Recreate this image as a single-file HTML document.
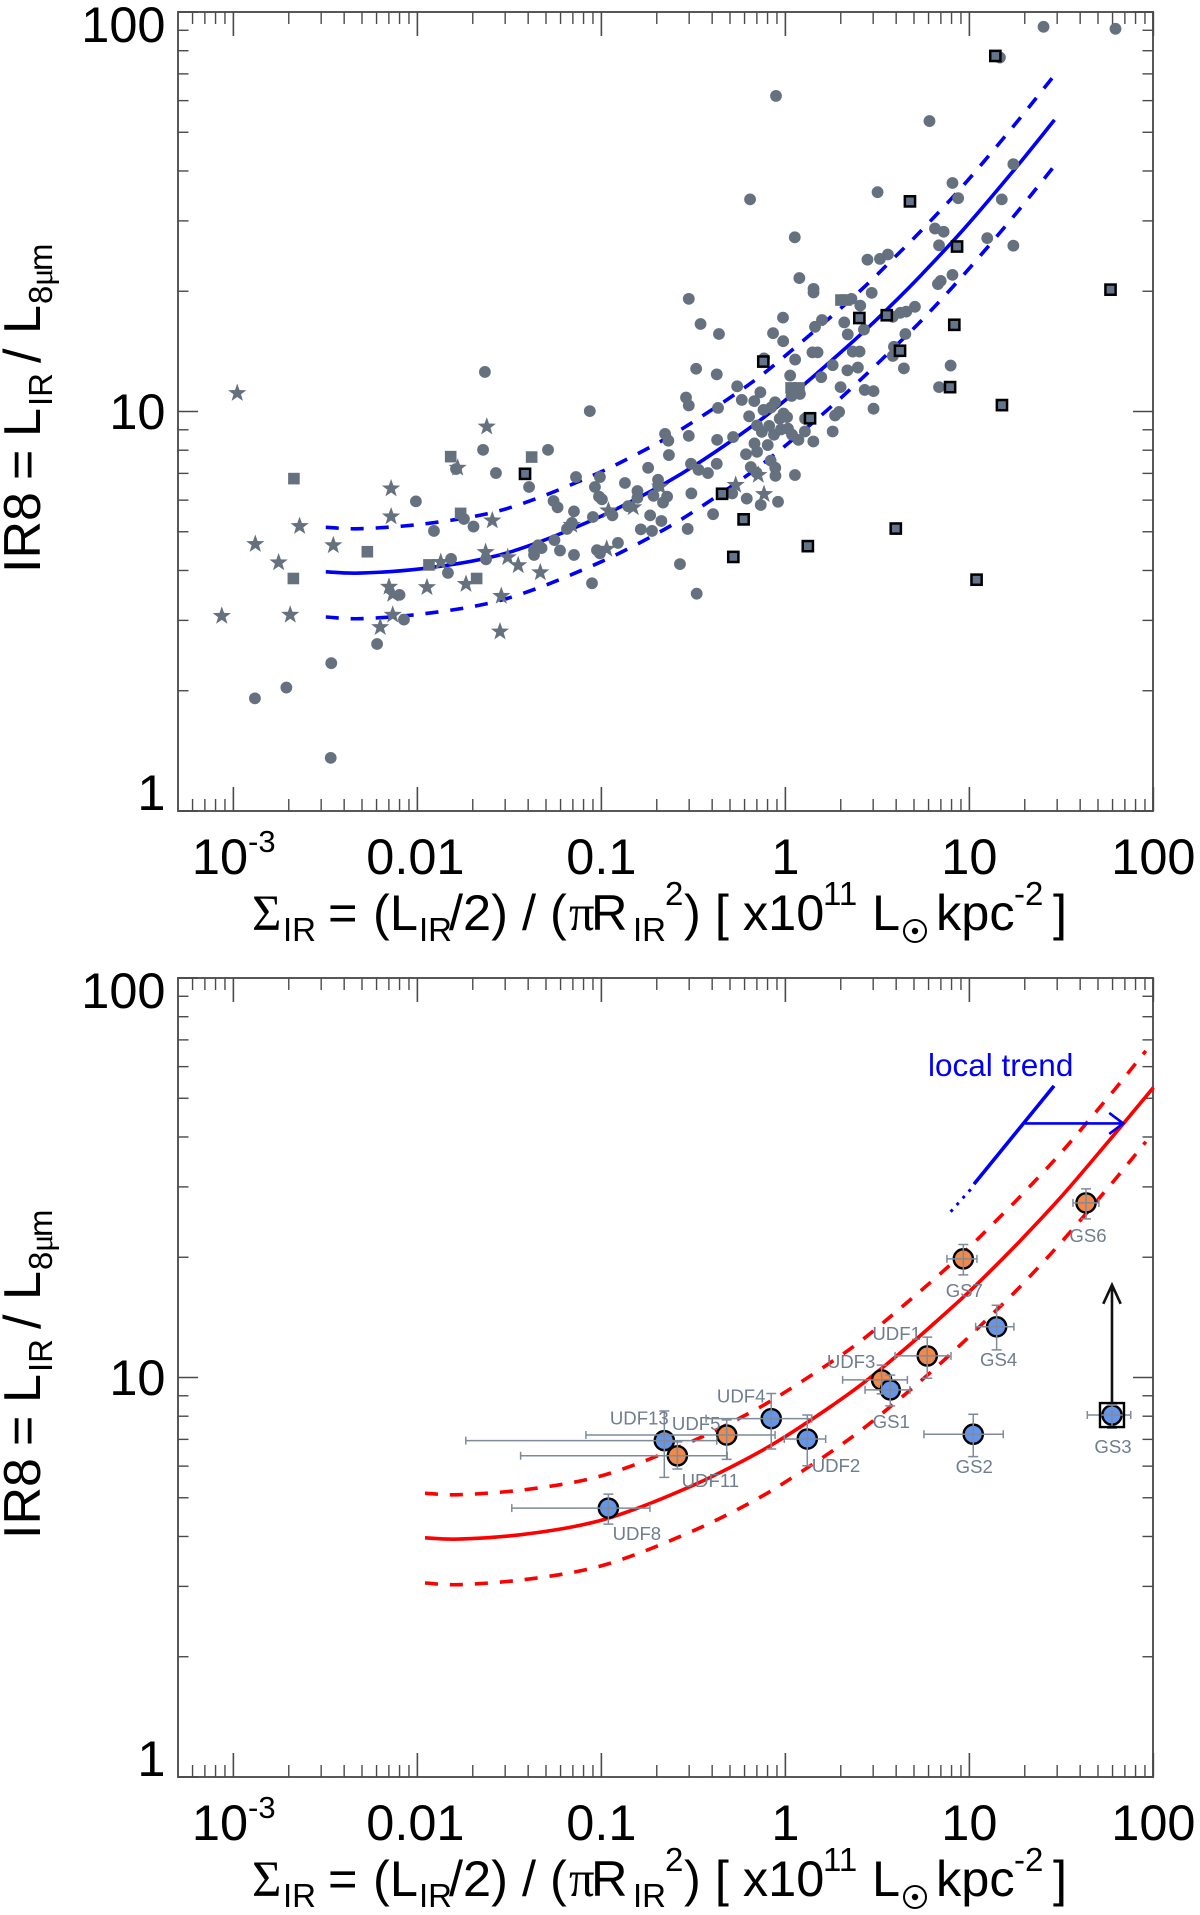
<!DOCTYPE html>
<html lang="en">
<head>
<meta charset="utf-8">
<title>IR8 versus infrared surface density</title>
<style>
html,body{margin:0;padding:0;background:#fff;}
svg{display:block;}
text{font-family:"Liberation Sans",Arial,sans-serif;fill:#000;}
.serif{font-family:"Liberation Serif","DejaVu Serif",serif;}
</style>
</head>
<body>
<svg id="figure" xmlns="http://www.w3.org/2000/svg" width="1200" height="1915" viewBox="0 0 1200 1915">
  <rect x="0" y="0" width="1200" height="1915" fill="#fff"/>

  <g id="panelTop"></g>
  <g id="panelBottom"></g>

  <g>
    <text font-size="50.5"><tspan class="serif" x="252" y="930">Σ</tspan><tspan font-size="33" x="283" y="941">IR</tspan><tspan x="328" y="930">=</tspan><tspan x="373" y="930">(L</tspan><tspan font-size="33" x="419" y="941">IR</tspan><tspan x="449" y="930">/2) / (</tspan><tspan class="serif" x="569" y="930">π</tspan><tspan x="591" y="930">R</tspan><tspan font-size="33" x="633" y="941">IR</tspan><tspan font-size="33" x="665" y="905">2</tspan><tspan x="684" y="930">) [ x10</tspan><tspan font-size="33" x="823" y="905">11</tspan><tspan x="872" y="930">L</tspan><tspan x="936" y="930">kpc</tspan><tspan font-size="33" x="1014" y="905">-2</tspan><tspan x="1053" y="930">]</tspan></text>
    <circle cx="915" cy="931" r="11" fill="none" stroke="#000" stroke-width="2"/>
    <circle cx="915" cy="931" r="3.2" fill="#000"/>
  </g>
  <g transform="translate(0,966)">
    <text font-size="50.5"><tspan class="serif" x="252" y="930">Σ</tspan><tspan font-size="33" x="283" y="941">IR</tspan><tspan x="328" y="930">=</tspan><tspan x="373" y="930">(L</tspan><tspan font-size="33" x="419" y="941">IR</tspan><tspan x="449" y="930">/2) / (</tspan><tspan class="serif" x="569" y="930">π</tspan><tspan x="591" y="930">R</tspan><tspan font-size="33" x="633" y="941">IR</tspan><tspan font-size="33" x="665" y="905">2</tspan><tspan x="684" y="930">) [ x10</tspan><tspan font-size="33" x="823" y="905">11</tspan><tspan x="872" y="930">L</tspan><tspan x="936" y="930">kpc</tspan><tspan font-size="33" x="1014" y="905">-2</tspan><tspan x="1053" y="930">]</tspan></text>
    <circle cx="915" cy="931" r="11" fill="none" stroke="#000" stroke-width="2"/>
    <circle cx="915" cy="931" r="3.2" fill="#000"/>
  </g>

  <text transform="translate(40,569) rotate(-90)" font-size="52"><tspan x="-4" y="0">IR8</tspan><tspan x="89" y="0">=</tspan><tspan x="132" y="0">L</tspan><tspan font-size="33" x="163" y="12">IR</tspan><tspan x="206" y="0">/</tspan><tspan x="235" y="0">L</tspan><tspan font-size="33" x="265" y="12">8</tspan><tspan class="serif" font-size="33" x="283" y="12">μ</tspan><tspan font-size="33" x="298" y="12">m</tspan></text>
  <text transform="translate(40,1535) rotate(-90)" font-size="52"><tspan x="-4" y="0">IR8</tspan><tspan x="89" y="0">=</tspan><tspan x="132" y="0">L</tspan><tspan font-size="33" x="163" y="12">IR</tspan><tspan x="206" y="0">/</tspan><tspan x="235" y="0">L</tspan><tspan font-size="33" x="265" y="12">8</tspan><tspan class="serif" font-size="33" x="283" y="12">μ</tspan><tspan font-size="33" x="298" y="12">m</tspan></text>
</svg>

<script>
/* ---------- axis data ---------- */
const xMajorLog = [-3, -2, -1, 0, 1, 2];
const xTickLabels = ["10", "0.01", "0.1", "1", "10", "100"];
const yMajorLog = [0, 1, 2];
const yTickLabels = ["1", "10", "100"];
const minorMultipliers = [2, 3, 4, 5, 6, 7, 8, 9];

/* ---------- top panel trend (Sigma_IR, IR8) ---------- */
const trendSigma = [0.00318,0.00488,0.01046,0.0236,0.0441,0.0946,0.150,0.222,0.326,0.525,0.771,1.24,1.91,2.81,3.74,5.49,9.31,17.3,29.0];
const trendMedian = [3.97,3.94,4.04,4.29,4.68,5.41,6.00,6.61,7.36,8.53,9.70,11.6,13.8,16.2,18.4,22.0,28.6,40.0,53.7];
const trendUpper = [5.13,5.09,5.22,5.54,6.05,6.99,7.75,8.54,9.51,11.0,12.5,15.0,17.8,20.9,23.8,28.4,36.9,51.7,69.5];
const trendLower = [3.06,3.03,3.11,3.30,3.60,4.16,4.61,5.08,5.66,6.56,7.46,8.92,10.6,12.5,14.2,16.9,22.0,30.7,41.2];

/* ---------- bottom panel trend (Sigma_IR, IR8) ---------- */
const highzSigma = [0.011,0.0168,0.0361,0.0814,0.152,0.326,0.518,0.766,1.12,1.81,2.66,4.28,6.59,9.69,12.9,18.9,32.1,59.7,100];
const highzMedian = [3.97,3.94,4.04,4.29,4.68,5.41,6.00,6.61,7.36,8.53,9.70,11.6,13.8,16.2,18.4,22.0,28.6,40.0,53.2];
const highzDashSigma = [0.011,0.0168,0.0361,0.0814,0.152,0.326,0.518,0.766,1.12,1.81,2.66,4.28,6.59,9.69,12.9,18.9,32.1,59.7,91];
const highzUpper = [5.13,5.09,5.22,5.54,6.05,6.99,7.75,8.54,9.51,11.0,12.5,15.0,17.8,20.9,23.8,28.4,36.9,51.7,65.7];
const highzLower = [3.06,3.03,3.11,3.30,3.60,4.16,4.61,5.08,5.66,6.56,7.46,8.92,10.6,12.5,14.2,16.9,22.0,30.7,38.9];

/* ---------- top panel samples, log10 values ---------- */
const circleLogSigma = [-1.633,-1.063,-1.643,-1.290,-1.573,-1.138,-1.790,-1.393,-2.008,-1.260,-1.238,-1.747,-1.910,-1.695,-1.187,-1.160,-1.255,-1.344,-1.325,-1.366,-1.366,-1.225,-1.627,-1.817,-1.834,-2.097,-2.073,-2.219,-2.468,-2.712,-2.883,-2.471,-1.149,-1.046,-1.035,-1.013,-1.149,-1.024,-1.051,-1.008,-0.872,-0.997,-0.940,-0.855,-0.804,-0.804,-0.717,-0.692,-0.691,-0.643,-0.665,-0.735,-0.674,-0.786,-0.725,-0.531,-1.008,-0.910,-0.573,-0.482,-0.654,-0.636,-0.525,-0.371,-0.284,-0.633,-0.746,-0.513,-0.472,-0.421,-0.373,-0.511,-0.393,-0.289,-0.210,-0.134,-0.040,-0.214,-0.154,-0.168,-0.096,-0.188,-0.157,-0.080,-0.055,-0.054,0.052,-0.154,-0.128,-0.088,-0.062,-0.024,0.014,0.036,0.071,0.152,0.106,0.257,-0.361,-0.067,-0.012,0.339,0.427,0.147,0.175,0.053,-0.116,0.366,0.403,-0.485,-0.373,0.026,0.257,0.337,0.394,0.195,-0.262,-0.136,-0.237,-0.169,-0.540,-0.525,-0.366,0.034,0.079,0.300,0.431,0.479,0.479,-0.056,-0.078,-0.119,-0.197,-0.010,0.009,-0.031,0.107,0.292,0.270,1.403,1.794,1.166,-0.051,0.783,1.239,0.908,0.501,-0.192,0.939,1.176,0.813,0.860,0.051,1.097,0.835,1.239,0.446,0.514,0.557,0.076,0.908,0.844,0.829,0.153,0.153,0.469,-0.525,0.359,0.407,0.704,0.657,0.625,0.584,-0.013,0.199,0.320,0.161,-0.461,0.590,0.584,0.652,0.644,0.898,0.835];
const circleLogIR8 = [1.099,1.001,0.904,0.904,0.846,0.836,0.856,0.811,0.775,0.776,0.760,0.731,0.701,0.712,0.706,0.721,0.678,0.665,0.658,0.653,0.641,0.652,0.630,0.631,0.596,0.541,0.479,0.418,0.370,0.309,0.282,0.133,0.750,0.736,0.811,0.787,0.641,0.653,0.570,0.836,0.821,0.780,0.740,0.763,0.801,0.784,0.789,0.829,0.814,0.787,0.772,0.740,0.726,0.705,0.701,0.706,0.645,0.671,0.618,0.544,0.944,0.927,0.939,0.929,0.936,0.891,0.859,0.869,0.854,0.846,0.869,0.795,0.743,0.795,0.782,0.766,0.774,0.893,0.899,0.920,0.916,0.861,0.847,0.877,0.859,0.839,0.841,0.965,0.949,0.964,0.942,0.955,0.957,0.942,0.929,0.925,0.950,0.950,1.194,1.196,1.176,1.193,1.205,1.148,1.148,1.130,1.133,1.150,1.150,1.107,1.093,1.090,1.116,1.103,1.110,1.086,1.063,1.048,1.029,1.026,1.035,1.015,1.009,1.039,1.044,1.061,1.054,1.051,1.007,1.023,1.010,1.004,0.988,0.995,0.986,0.982,0.982,0.999,0.990,1.963,1.958,1.886,1.790,1.727,1.619,1.572,1.549,1.531,1.534,1.531,1.458,1.450,1.436,1.434,1.416,1.415,1.380,1.382,1.393,1.334,1.342,1.327,1.319,1.307,1.298,1.297,1.282,1.282,1.265,1.262,1.250,1.247,1.237,1.235,1.229,1.223,1.212,1.219,1.162,1.139,1.194,1.108,1.115,1.061];

const starLogSigma = [-1.623,-1.781,-2.143,-2.143,-1.593,-2.640,-2.881,-2.457,-2.754,-1.629,-1.509,-1.452,-1.873,-1.332,-2.154,-2.134,-1.948,-1.736,-1.544,-3.063,-2.691,-2.134,-2.202,-1.551,-1.161,-0.962,-0.827,-0.971,-0.681,-0.270,-0.147,-0.116,-2.979];
const starLogIR8 = [0.962,0.859,0.807,0.737,0.727,0.713,0.668,0.665,0.622,0.648,0.635,0.615,0.623,0.597,0.561,0.543,0.560,0.568,0.538,0.488,0.491,0.491,0.460,0.449,0.716,0.752,0.760,0.656,0.812,0.816,0.841,0.793,1.046];

const squareLogSigma = [-2.671,-1.819,-1.379,-1.765,-2.272,-1.937,-2.674,-1.678,0.302,0.329,0.031,0.074];
const squareLogIR8 = [0.832,0.887,0.886,0.745,0.649,0.616,0.582,0.582,1.279,1.279,1.059,1.059];

const boxedLogSigma = [-1.415,-0.344,-0.227,-0.283,-0.120,0.134,0.677,0.402,0.551,0.933,0.918,0.623,0.895,1.177,1.141,1.767,0.122,0.600,1.039];
const boxedLogIR8 = [0.844,0.794,0.730,0.636,1.125,0.983,1.526,1.234,1.241,1.413,1.217,1.152,1.061,1.016,1.890,1.305,0.663,0.707,0.579];

/* ---------- bottom panel galaxies, log10 values ---------- */
const galaxyNames = ["UDF8","UDF13","UDF11","UDF5","UDF4","UDF2","UDF3","GS1","UDF1","GS2","GS3","GS4","GS7","GS6"];
const galaxyKinds = ["blue","blue","orange","orange","blue","blue","orange","blue","orange","blue","blue","blue","orange","orange"];
const galaxyLogSigma = [-0.962,-0.658,-0.587,-0.319,-0.077,0.119,0.523,0.570,0.771,1.021,1.775,1.148,0.967,1.634];
const galaxyLogSigmaLow = [-1.487,-1.737,-1.439,-1.084,-0.431,-0.006,0.311,0.433,0.596,0.753,1.641,1.034,0.878,1.563];
const galaxyLogSigmaHigh = [-0.736,-0.373,-0.316,-0.056,0.143,0.219,0.663,0.677,0.900,1.184,1.877,1.242,1.041,1.704];
const galaxyLogIR8 = [0.673,0.842,0.804,0.856,0.897,0.846,0.994,0.969,1.054,0.858,0.906,1.127,1.297,1.437];
const galaxyLogIR8Low = [0.633,0.750,0.771,0.795,0.821,0.779,0.959,0.929,0.998,0.802,0.873,1.069,1.257,1.397];
const galaxyLogIR8High = [0.708,0.916,0.839,0.894,0.960,0.906,1.031,1.006,1.101,0.908,0.931,1.181,1.333,1.472];
const galaxyLabelDx = [28.5,-25,33,-30.5,-30,28.7,-30.5,1,-30.6,1,1,2,1,2];
const galaxyLabelDy = [32,-16,31,-5,-16,33,-12,38,-16,39,38,39,38,39];

/* ---------- annotations, log10 values ---------- */
const localTrendLogSigma = [1.460, 1.025];
const localTrendLogIR8 = [1.730, 1.484];
const localDottedLogSigma = [1.007, 0.877];
const localDottedLogIR8 = [1.471, 1.404];
const shiftArrowLogSigma = [1.302, 1.836];
const shiftArrowLogIR8 = [1.636, 1.636];
const limitArrowLogSigma = [1.775, 1.775];
const limitArrowLogIR8 = [0.935, 1.232];

/* ---------- axis functions ---------- */
const NS = "http://www.w3.org/2000/svg";
const plotLeft = 178, plotRight = 1153, xDecade = 184, xLogMin = -3.301, yDecade = 399.5, plotHeight = 799;
function xPos(logValue) { return plotLeft + (logValue - xLogMin) * xDecade; }
function yPos(logValue, base) { return base - logValue * yDecade; }

function make(tag, parent, attrs) {
  const node = document.createElementNS(NS, tag);
  for (const key in attrs) node.setAttribute(key, attrs[key]);
  parent.appendChild(node);
  return node;
}
function smoothPath(xs, ys, base) {
  const pts = xs.map((v, i) => [xPos(Math.log10(v)), yPos(Math.log10(ys[i]), base)]);
  let d = "M" + pts[0][0].toFixed(1) + " " + pts[0][1].toFixed(1);
  for (let i = 0; i < pts.length - 1; i++) {
    const p0 = pts[Math.max(i - 1, 0)], p1 = pts[i], p2 = pts[i + 1], p3 = pts[Math.min(i + 2, pts.length - 1)];
    d += " C" + (p1[0] + (p2[0] - p0[0]) / 6).toFixed(1) + " " + (p1[1] + (p2[1] - p0[1]) / 6).toFixed(1) + " " +
      (p2[0] - (p3[0] - p1[0]) / 6).toFixed(1) + " " + (p2[1] - (p3[1] - p1[1]) / 6).toFixed(1) + " " +
      p2[0].toFixed(1) + " " + p2[1].toFixed(1);
  }
  return d;
}
function starPoints(cx, cy, outer, inner) {
  const out = [];
  for (let i = 0; i < 10; i++) {
    const r = i % 2 ? inner : outer, a = -Math.PI / 2 + i * Math.PI / 5;
    out.push((cx + r * Math.cos(a)).toFixed(1) + "," + (cy + r * Math.sin(a)).toFixed(1));
  }
  return out.join(" ");
}

function drawAxes(group, base) {
  const top = base - plotHeight;
  const frame = make("rect", group, {x: plotLeft, y: top, width: plotRight - plotLeft, height: plotHeight, fill: "none", stroke: "#585858", "stroke-width": 2});
  
  

  xMajorLog.forEach(function (d, i) {
    const x = xPos(d);
    [[base, base - 24], [top, top + 24]].forEach(function (e) {
      const t = make("line", group, {x1: x, x2: x, y1: e[0], y2: e[1], stroke: "#4a4a4a", "stroke-width": 1.6});
      
      
    });
    const lab = make("text", group, {x: i === 0 ? 220 : x + (i === 1 ? -2 : 0), y: base + 63, "font-size": 50.5, "text-anchor": "middle"});
    lab.textContent = xTickLabels[i];
    
    
    if (i === 0) {
      const sup = make("text", group, {x: 248, y: base + 41, "font-size": 31});
      sup.textContent = "-3";
      
      
    }
  });
  for (let d = -4; d <= 1; d++) {
    minorMultipliers.forEach(function (m) {
      const logv = d + Math.log10(m);
      if (logv <= xLogMin + 0.001 || logv >= 2) return;
      const x = xPos(logv);
      [[base, base - 12], [top, top + 12]].forEach(function (e) {
        const t = make("line", group, {x1: x, x2: x, y1: e[0], y2: e[1], stroke: "#4a4a4a", "stroke-width": 1.4});
        
        
      });
    });
  }
  yMajorLog.forEach(function (d, i) {
    const y = yPos(d, base);
    [[plotLeft, plotLeft + 20], [plotRight, plotRight - 20]].forEach(function (e) {
      const t = make("line", group, {x1: e[0], x2: e[1], y1: y, y2: y, stroke: "#4a4a4a", "stroke-width": 1.6});
      
      
    });
    const lab = make("text", group, {x: 165.5, y: y + [-1, 17.5, 30][i], "font-size": 50.5, "text-anchor": "end"});
    lab.textContent = yTickLabels[i];
    
    
    if (d < 2) {
      minorMultipliers.forEach(function (m) {
        const my = yPos(d + Math.log10(m), base);
        [[plotLeft, plotLeft + 10.5], [plotRight, plotRight - 10.5]].forEach(function (e) {
          const t = make("line", group, {x1: e[0], x2: e[1], y1: my, y2: my, stroke: "#4a4a4a", "stroke-width": 1.4});
          
          
        });
      });
    }
  });
}

function drawCurve(group, xs, ys, base, color, dashed) {
  const attrs = {d: smoothPath(xs, ys, base), fill: "none", stroke: color, "stroke-width": 3.6};
  if (dashed) attrs["stroke-dasharray"] = "13 12";
  const c = make("path", group, attrs);
  
  
}

/* ---------- top panel ---------- */
const topGroup = document.getElementById("panelTop");
const topBase = 811;
const sampleGrey = "#65717f";
drawAxes(topGroup, topBase);
drawCurve(topGroup, trendSigma, trendMedian, topBase, "#0000f5", false);
drawCurve(topGroup, trendSigma, trendUpper, topBase, "#0000f5", true);
drawCurve(topGroup, trendSigma, trendLower, topBase, "#0000f5", true);

circleLogSigma.forEach(function (v, i) {
  const m = make("circle", topGroup, {cx: xPos(v), cy: yPos(circleLogIR8[i], topBase), r: 5.9, fill: sampleGrey});
  
  
});
squareLogSigma.forEach(function (v, i) {
  const m = make("rect", topGroup, {x: xPos(v) - 5.8, y: yPos(squareLogIR8[i], topBase) - 5.8, width: 11.6, height: 11.6, fill: sampleGrey});
  
  
});
starLogSigma.forEach(function (v, i) {
  const m = make("polygon", topGroup, {points: starPoints(xPos(v), yPos(starLogIR8[i], topBase), 9.6, 3.9), fill: sampleGrey});
  
  
});
boxedLogSigma.forEach(function (v, i) {
  const m = make("rect", topGroup, {x: xPos(v) - 5.1, y: yPos(boxedLogIR8[i], topBase) - 5.1, width: 10.2, height: 10.2, fill: "#64748b", stroke: "#000", "stroke-width": 2.5});
  
  
});

/* ---------- bottom panel ---------- */
const botGroup = document.getElementById("panelBottom");
const botBase = 1777;
drawAxes(botGroup, botBase);
drawCurve(botGroup, highzSigma, highzMedian, botBase, "#ff0000", false);
drawCurve(botGroup, highzDashSigma, highzUpper, botBase, "#ff0000", true);
drawCurve(botGroup, highzDashSigma, highzLower, botBase, "#ff0000", true);

const trendLine = make("line", botGroup, {x1: xPos(localTrendLogSigma[0]), y1: yPos(localTrendLogIR8[0], botBase), x2: xPos(localTrendLogSigma[1]), y2: yPos(localTrendLogIR8[1], botBase), stroke: "#0000f5", "stroke-width": 3.6});


const trendDots = make("line", botGroup, {x1: xPos(localDottedLogSigma[0]), y1: yPos(localDottedLogIR8[0], botBase), x2: xPos(localDottedLogSigma[1]), y2: yPos(localDottedLogIR8[1], botBase), stroke: "#0000f5", "stroke-width": 3, "stroke-dasharray": "3 6"});


const trendText = make("text", botGroup, {x: 928, y: 1076, "font-size": 31.5, style: "fill:#0000f5"});
trendText.textContent = "local trend";



const shiftX1 = xPos(shiftArrowLogSigma[0]), shiftX2 = xPos(shiftArrowLogSigma[1]), shiftY = yPos(shiftArrowLogIR8[0], botBase);
const shiftArrow = make("path", botGroup, {d: "M" + shiftX1 + " " + shiftY + " L" + shiftX2 + " " + shiftY + " M" + (shiftX2 - 14) + " " + (shiftY - 10.5) + " L" + shiftX2 + " " + shiftY + " L" + (shiftX2 - 14) + " " + (shiftY + 10.5), fill: "none", stroke: "#0000f5", "stroke-width": 2.6});



galaxyLogSigma.forEach(function (v, i) {
  const m = make("circle", botGroup, {cx: xPos(v), cy: yPos(galaxyLogIR8[i], botBase), r: 9.6, fill: galaxyKinds[i] === "blue" ? "#6495ed" : "#ef8a4b", stroke: "#000", "stroke-width": 2.4});
  
  
});
galaxyLogSigma.forEach(function (v, i) {
  const cx = xPos(v), cy = yPos(galaxyLogIR8[i], botBase);
  const xl = xPos(galaxyLogSigmaLow[i]), xh = xPos(galaxyLogSigmaHigh[i]);
  const yl = yPos(galaxyLogIR8Low[i], botBase), yh = yPos(galaxyLogIR8High[i], botBase);
  const d = "M" + xl + " " + cy + " L" + xh + " " + cy +
    " M" + xl + " " + (cy - 4) + " L" + xl + " " + (cy + 4) +
    " M" + xh + " " + (cy - 4) + " L" + xh + " " + (cy + 4) +
    " M" + cx + " " + yl + " L" + cx + " " + yh +
    " M" + (cx - 5) + " " + yl + " L" + (cx + 5) + " " + yl +
    " M" + (cx - 5) + " " + yh + " L" + (cx + 5) + " " + yh;
  const e = make("path", botGroup, {d: d, fill: "none", stroke: "#7f8b9b", "stroke-width": 1.5});
  
  
  const t = make("text", botGroup, {x: cx + galaxyLabelDx[i], y: cy + galaxyLabelDy[i], "font-size": 18.6, "text-anchor": "middle", style: "fill:#707d90"});
  t.textContent = galaxyNames[i];
  
  
});

const gs3Index = galaxyNames.indexOf("GS3");
const gs3Box = make("rect", botGroup, {x: xPos(galaxyLogSigma[gs3Index]) - 12, y: yPos(galaxyLogIR8[gs3Index], botBase) - 12, width: 24, height: 24, fill: "none", stroke: "#000", "stroke-width": 2.4});



const limX = xPos(limitArrowLogSigma[0]), limY1 = yPos(limitArrowLogIR8[0], botBase), limY2 = yPos(limitArrowLogIR8[1], botBase);
const limArrow = make("path", botGroup, {d: "M" + limX + " " + limY1 + " L" + limX + " " + limY2 + " M" + (limX - 8.7) + " " + (limY2 + 19) + " L" + limX + " " + limY2 + " L" + (limX + 8.7) + " " + (limY2 + 19), fill: "none", stroke: "#111", "stroke-width": 2.6});


</script>
</body>
</html>
